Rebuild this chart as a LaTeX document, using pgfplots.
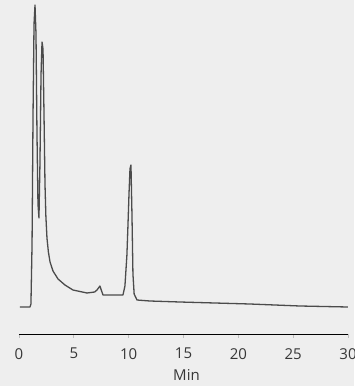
\documentclass[border=0pt]{standalone}
\usepackage{pgfplots}
\pgfplotsset{compat=1.18}
\usepackage{fontspec}
\setmainfont{Open Sans}
\definecolor{bg}{RGB}{238,238,238}
\definecolor{ln}{RGB}{75,75,75}
\definecolor{txt}{RGB}{55,55,55}
\begin{document}
\begin{tikzpicture}
\path[use as bounding box, fill=bg] (-19pt,-52pt) rectangle (335pt,334pt);
\begin{axis}[
  at={(0,0)}, anchor=south west,
  scale only axis, width=329pt, height=334pt,
  xmin=0, xmax=30, ymin=0, ymax=334,
  axis x line=bottom, axis y line=none,
  x axis line style={-, black, line width=0.8pt},
  xtick={0,5,...,30},
  tick align=outside,
  major tick length=4pt,
  tick style={gray!50, line width=0.8pt},
  /pgf/number format/assume math mode=true,
  xticklabel style={font=\fontsize{15}{17}\selectfont, text=txt, inner sep=2pt, yshift=-8pt},
  xlabel={Min},
  xlabel style={font=\fontsize{15}{17}\selectfont, text=txt, xshift=3pt, yshift=-5pt},
  clip=false,
]
\addplot[ln, line width=1.3pt, line join=round] coordinates {
(0.09,27) (1.00,27) (1.09,30) (1.19,90) (1.28,220) (1.37,310) (1.46,329)
(1.55,300) (1.64,200) (1.73,130) (1.82,116) (1.91,170) (2.01,260) (2.10,292)
(2.19,285) (2.28,220) (2.37,150) (2.45,118) (2.55,96) (2.68,82) (2.83,72)
(3.10,63) (3.56,55) (4.19,49)
(4.92,44) (6.20,41) (6.90,42) (7.11,44) (7.38,48) (7.50,44) (7.66,39)
(8.30,39) (9.48,39) (9.66,48) (9.84,79) (9.94,110) (10.03,140) (10.12,165)
(10.21,169) (10.30,120) (10.39,60) (10.50,40) (10.76,34) (11.94,33)
(14.68,32) (21.06,30) (25.62,28) (29.99,27)
};
\end{axis}
\end{tikzpicture}
\end{document}
